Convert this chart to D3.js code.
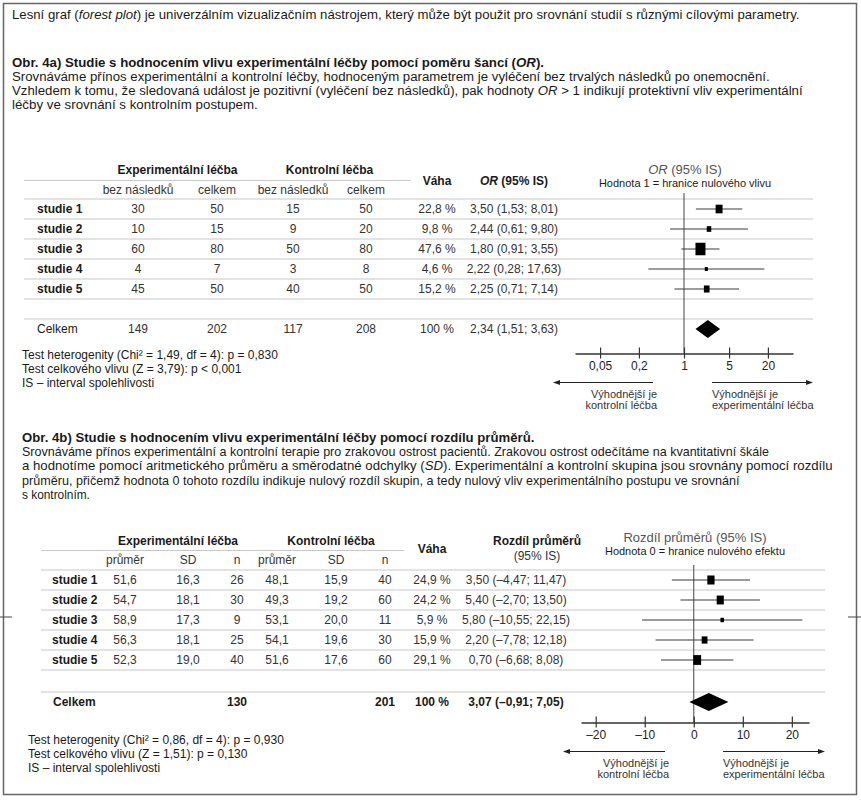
<!DOCTYPE html>
<html>
<head>
<meta charset="utf-8">
<script src="https://cdn.jsdelivr.net/npm/d3@7"></script>
<style>
  body { margin: 0; background: #fff; }
  text { font-family: "Liberation Sans", Arial, sans-serif; }
</style>
</head>
<body>
<script>
// ---- data: Obr. 4a (odds ratio) ----
var studies = ["studie 1", "studie 2", "studie 3", "studie 4", "studie 5"];
var expEvents = [30, 10, 60, 4, 45];
var expTotal = [50, 15, 80, 7, 50];
var ctrlEvents = [15, 9, 50, 3, 40];
var ctrlTotal = [50, 20, 80, 8, 50];
var weightsA = [22.8, 9.8, 47.6, 4.6, 15.2];
var orEst = [3.50, 2.44, 1.80, 2.22, 2.25];
var orLow = [1.53, 0.61, 0.91, 0.28, 0.71];
var orHigh = [8.01, 9.80, 3.55, 17.63, 7.14];
var totalsA = [149, 202, 117, 208];
var orTotal = [2.34, 1.51, 3.63];
var orTicks = [0.05, 0.2, 1, 5, 20];

// ---- data: Obr. 4b (mean difference) ----
var expMean = [51.6, 54.7, 58.9, 56.3, 52.3];
var expSD = [16.3, 18.1, 17.3, 18.1, 19.0];
var expN = [26, 30, 9, 25, 40];
var ctrlMean = [48.1, 49.3, 53.1, 54.1, 51.6];
var ctrlSD = [15.9, 19.2, 20.0, 19.6, 17.6];
var ctrlN = [40, 60, 11, 30, 60];
var weightsB = [24.9, 24.2, 5.9, 15.9, 29.1];
var mdEst = [3.50, 5.40, 5.80, 2.20, 0.70];
var mdLow = [-4.47, -2.70, -10.55, -7.78, -6.68];
var mdHigh = [11.47, 13.50, 22.15, 12.18, 8.08];
var totalsB = [130, 201];
var mdTotal = [3.07, -0.91, 7.05];
var mdTicks = [-20, -10, 0, 10, 20];

var cz = d3.formatLocale({decimal: ",", thousands: " ", grouping: [3], currency: ["", ""], minus: "\u2013"});
var f1 = cz.format(".1f"), f2 = cz.format(".2f"), fg = cz.format("~g");
function ci(e, l, h) { return f2(e) + " (" + f2(l) + "; " + f2(h) + ")"; }

var svg = d3.select("body").append("svg")
    .attr("width", 861)
    .attr("height", 800);

// frame
svg.append("rect")
    .attr("x", 3.5).attr("y", 3.5)
    .attr("width", 853).attr("height", 791)
    .attr("fill", "none").attr("stroke", "#666").attr("stroke-width", 1.5);
svg.append("line").attr("x1", 0).attr("x2", 12).attr("y1", 617).attr("y2", 617).attr("stroke", "#444");
svg.append("line").attr("x1", 848).attr("x2", 861).attr("y1", 617).attr("y2", 617).attr("stroke", "#444");

// text helper: parts = [[string, {italic, bold}], ...]
function txt(x, y, parts, o) {
  o = o || {};
  var t = svg.append("text")
      .attr("x", x).attr("y", y)
      .attr("text-anchor", o.anchor || "start")
      .style("font-size", (o.size || 12) + "px")
      .style("font-weight", o.bold ? "bold" : "normal")
      .style("fill", o.color || "#1a1a1a");
  if (typeof parts === "string") parts = [[parts]];
  parts.forEach(function(p) {
    var s = t.append("tspan").text(p[0]);
    if (p[1] && p[1].italic) s.style("font-style", "italic");
    if (p[1] && p[1].bold) s.style("font-weight", "bold");
  });
  if (o.width) {
    var k = o.width / t.node().getComputedTextLength();
    t.attr("x", 0).attr("y", 0)
     .attr("transform", "translate(" + x + "," + y + ") scale(" + k + ",1)");
  }
  return t;
}

var I = {italic: true};

// ---- intro & 4a texts ----
txt(12, 19, [["Lesní graf ("], ["forest plot", I], [") je univerzálním vizualizačním nástrojem, který může být použit pro srovnání studií s různými cílovými parametry."]], {width: 788});
txt(12, 67, [["Obr. 4a) Studie s hodnocením vlivu experimentální léčby pomocí poměru šancí ("], ["OR", I], [")."]], {bold: true, width: 533});
txt(12, 81, "Srovnáváme přínos experimentální a kontrolní léčby, hodnoceným parametrem je vyléčení bez trvalých následků po onemocnění.", {width: 758});
txt(12, 95, [["Vzhledem k tomu, že sledovaná událost je pozitivní (vyléčení bez následků), pak hodnoty "], ["OR", I], [" > 1 indikují protektivní vliv experimentální"]], {width: 791});
txt(12, 109, "léčby ve srovnání s kontrolním postupem.", {width: 246});

// ---- table 4a ----
var colA = [138, 217, 293, 366, 437, 514];
var yA = d3.scaleLinear().domain([0, 4]).range([209, 289]);
var totalRowA = yA(6);

txt((colA[0] + colA[1]) / 2, 174, "Experimentální léčba", {anchor: "middle", bold: true});
txt((colA[2] + colA[3]) / 2, 174, "Kontrolní léčba", {anchor: "middle", bold: true});
svg.append("line").attr("x1", 24).attr("x2", 411).attr("y1", 180.5).attr("y2", 180.5).attr("stroke", "#c8c8c8").attr("stroke-width", 1.2);
["bez následků", "celkem", "bez následků", "celkem"].forEach(function(h, i) {
  txt(colA[i], 194, h, {anchor: "middle", color: "#333"});
});
txt(colA[4], 185, "Váha", {anchor: "middle", bold: true});
txt(colA[5], 185, [["OR", I], [" (95% IS)"]], {anchor: "middle", bold: true});

d3.range(7).forEach(function(i) {
  svg.append("line")
      .attr("x1", 24).attr("x2", 813)
      .attr("y1", yA(i) - 10).attr("y2", yA(i) - 10)
      .attr("stroke", "#c8c8c8").attr("stroke-width", 1.2);
});

studies.forEach(function(s, i) {
  var y = yA(i) + 4;
  txt(37, y, s, {bold: true});
  [expEvents[i], expTotal[i], ctrlEvents[i], ctrlTotal[i]].forEach(function(v, j) {
    txt(colA[j], y, String(v), {anchor: "middle", color: "#333"});
  });
  txt(colA[4], y, f1(weightsA[i]) + " %", {anchor: "middle", color: "#333"});
  txt(colA[5], y, ci(orEst[i], orLow[i], orHigh[i]), {anchor: "middle", color: "#333"});
});
txt(37, totalRowA + 4, "Celkem");
totalsA.forEach(function(v, j) { txt(colA[j], totalRowA + 4, String(v), {anchor: "middle", color: "#333"}); });
txt(colA[4], totalRowA + 4, "100 %", {anchor: "middle", color: "#333"});
txt(colA[5], totalRowA + 4, ci(orTotal[0], orTotal[1], orTotal[2]), {anchor: "middle", color: "#333"});

txt(22, 359, "Test heterogenity (Chi² = 1,49, df = 4): p = 0,830");
txt(22, 373, "Test celkového vlivu (Z = 3,79): p < 0,001");
txt(22, 387, "IS – interval spolehlivosti");

// ---- forest plot helper ----
function forest(cfg) {
  var x = cfg.x;
  txt(cfg.titleX, cfg.titleY, cfg.title, {anchor: "middle", size: 13, color: "#555"});
  txt(cfg.titleX, cfg.titleY + 13, cfg.subtitle, {anchor: "middle", size: 11, color: "#1a1a1a"});

  svg.append("line")
      .attr("x1", x(cfg.nullValue)).attr("x2", x(cfg.nullValue))
      .attr("y1", cfg.refTop).attr("y2", cfg.axisY)
      .attr("stroke", "#444").attr("stroke-width", 1);

  var g = svg.append("g");
  g.selectAll(".ci").data(cfg.est).enter().append("line")
      .attr("x1", function(d, i) { return x(cfg.low[i]); })
      .attr("x2", function(d, i) { return x(cfg.high[i]); })
      .attr("y1", function(d, i) { return cfg.y(i); })
      .attr("y2", function(d, i) { return cfg.y(i); })
      .attr("stroke", "#3a3a3a").attr("stroke-width", 1.2);
  g.selectAll(".box").data(cfg.est).enter().append("rect")
      .attr("width", function(d, i) { return 1.45 * Math.sqrt(cfg.w[i]); })
      .attr("height", function(d, i) { return 1.25 * 1.45 * Math.sqrt(cfg.w[i]); })
      .attr("x", function(d, i) { return x(d) - 0.725 * Math.sqrt(cfg.w[i]); })
      .attr("y", function(d, i) { return cfg.y(i) - 0.625 * 1.45 * Math.sqrt(cfg.w[i]); })
      .attr("fill", "#000");

  var t = cfg.total, ty = cfg.totalY;
  g.append("path")
      .attr("d", "M" + x(t[1]) + "," + ty + "L" + x(t[0]) + "," + (ty - 9) +
                 "L" + x(t[2]) + "," + ty + "L" + x(t[0]) + "," + (ty + 9) + "Z")
      .attr("fill", "#000");

  var ax = svg.append("g")
      .attr("transform", "translate(0," + cfg.axisY + ")")
      .call(d3.axisBottom(x).tickValues(cfg.ticks).tickFormat(cfg.fmt)
            .tickSize(5).tickSizeOuter(0).tickPadding(3));
  ax.select(".domain").attr("stroke", "#333").attr("stroke-width", 1.3);
  ax.selectAll(".tick line").attr("y1", -6).attr("stroke", "#333").attr("stroke-width", 1.2);
  ax.selectAll(".tick text")
      .style("font-family", '"Liberation Sans", Arial, sans-serif')
      .style("font-size", "12px").attr("fill", "#222");

  // direction arrows
  var ay = cfg.axisY + 29;
  [[cfg.arrowL[1], cfg.arrowL[0]], [cfg.arrowR[0], cfg.arrowR[1]]].forEach(function(a) {
    var dir = a[1] > a[0] ? 1 : -1;
    svg.append("line").attr("x1", a[0]).attr("x2", a[1] - dir * 5)
        .attr("y1", ay).attr("y2", ay).attr("stroke", "#222").attr("stroke-width", 1);
    svg.append("path")
        .attr("d", "M" + a[1] + "," + ay + "L" + (a[1] - dir * 7) + "," + (ay - 2.5) +
                   "L" + (a[1] - dir * 7) + "," + (ay + 2.5) + "Z")
        .attr("fill", "#222");
  });
  txt(cfg.arrowL[1] + 4, ay + 15, "Výhodnější je", {anchor: "end", size: 11, color: "#333"});
  txt(cfg.arrowL[1] + 4, ay + 26, "kontrolní léčba", {anchor: "end", size: 11, color: "#333"});
  txt(cfg.arrowR[0], ay + 15, "Výhodnější je", {size: 11, color: "#333"});
  txt(cfg.arrowR[0], ay + 26, "experimentální léčba", {size: 11, color: "#333"});
}

forest({
  x: d3.scaleLog().domain([1 / 49, 49]).range([575, 793]),
  y: yA, est: orEst, low: orLow, high: orHigh, w: weightsA,
  total: orTotal, totalY: totalRowA, nullValue: 1,
  ticks: orTicks, fmt: fg,
  title: [["OR", I], [" (95% IS)"]], subtitle: "Hodnota 1 = hranice nulového vlivu",
  titleX: 685, titleY: 174, refTop: 193, axisY: 353.5,
  arrowL: [553, 653], arrowR: [712, 813]
});

// ---- 4b texts ----
txt(22, 442, "Obr. 4b) Studie s hodnocením vlivu experimentální léčby pomocí rozdílu průměrů.", {bold: true, width: 513});
txt(22, 456, "Srovnáváme přínos experimentální a kontrolní terapie pro zrakovou ostrost pacientů. Zrakovou ostrost odečítáme na kvantitativní škále", {width: 748});
txt(22, 470, [["a hodnotíme pomocí aritmetického průměru a směrodatné odchylky ("], ["SD", I], ["). Experimentální a kontrolní skupina jsou srovnány pomocí rozdílu"]], {width: 811});
txt(22, 485, "průměru, přičemž hodnota 0 tohoto rozdílu indikuje nulový rozdíl skupin, a tedy nulový vliv experimentálního postupu ve srovnání", {width: 718});
txt(22, 499, "s kontrolním.", {width: 68});

// ---- table 4b ----
var colB = [125, 188, 237, 277, 336, 385, 432, 516];
var yB = d3.scaleLinear().domain([0, 4]).range([580, 660]);
var totalRowB = 702;

txt(178, 545, "Experimentální léčba", {anchor: "middle", bold: true});
txt(331, 545, "Kontrolní léčba", {anchor: "middle", bold: true});
svg.append("line").attr("x1", 41).attr("x2", 404).attr("y1", 550.5).attr("y2", 550.5).attr("stroke", "#c8c8c8").attr("stroke-width", 1.2);
["průměr", "SD", "n", "průměr", "SD", "n"].forEach(function(h, i) {
  txt(colB[i], 564, h, {anchor: "middle", color: "#333"});
});
txt(colB[6], 553, "Váha", {anchor: "middle", bold: true});
txt(537, 545, "Rozdíl průměrů", {anchor: "middle", bold: true});
txt(537, 560, "(95% IS)", {anchor: "middle", color: "#333"});

d3.range(6).forEach(function(i) {
  svg.append("line")
      .attr("x1", 41).attr("x2", 825)
      .attr("y1", yB(i) - 10).attr("y2", yB(i) - 10)
      .attr("stroke", "#c8c8c8").attr("stroke-width", 1.2);
});
svg.append("line").attr("x1", 41).attr("x2", 825).attr("y1", totalRowB - 10).attr("y2", totalRowB - 10)
    .attr("stroke", "#c8c8c8").attr("stroke-width", 1.2);

studies.forEach(function(s, i) {
  var y = yB(i) + 4;
  txt(52, y, s, {bold: true});
  [f1(expMean[i]), f1(expSD[i]), String(expN[i]), f1(ctrlMean[i]), f1(ctrlSD[i]), String(ctrlN[i])].forEach(function(v, j) {
    txt(colB[j], y, v, {anchor: "middle", color: "#333"});
  });
  txt(colB[6], y, f1(weightsB[i]) + " %", {anchor: "middle", color: "#333"});
  txt(colB[7], y, ci(mdEst[i], mdLow[i], mdHigh[i]), {anchor: "middle", color: "#333"});
});
txt(53, totalRowB + 4, "Celkem", {bold: true});
txt(colB[2], totalRowB + 4, String(totalsB[0]), {anchor: "middle", bold: true});
txt(colB[5], totalRowB + 4, String(totalsB[1]), {anchor: "middle", bold: true});
txt(colB[6], totalRowB + 4, "100 %", {anchor: "middle", bold: true});
txt(colB[7], totalRowB + 4, ci(mdTotal[0], mdTotal[1], mdTotal[2]), {anchor: "middle", bold: true});

txt(28, 744, "Test heterogenity (Chi² = 0,86, df = 4): p = 0,930");
txt(28, 758, "Test celkového vlivu (Z = 1,51): p = 0,130");
txt(28, 772, "IS – interval spolehlivosti");

forest({
  x: d3.scaleLinear().domain([-23, 23.5]).range([581, 809]),
  y: yB, est: mdEst, low: mdLow, high: mdHigh, w: weightsB,
  total: mdTotal, totalY: totalRowB, nullValue: 0,
  ticks: mdTicks, fmt: cz.format("d"),
  title: "Rozdíl průměrů (95% IS)", subtitle: "Hodnota 0 = hranice nulového efektu",
  titleX: 695, titleY: 542, refTop: 565, axisY: 722.5,
  arrowL: [563, 665], arrowR: [723, 825]
});
</script>
</body>
</html>
